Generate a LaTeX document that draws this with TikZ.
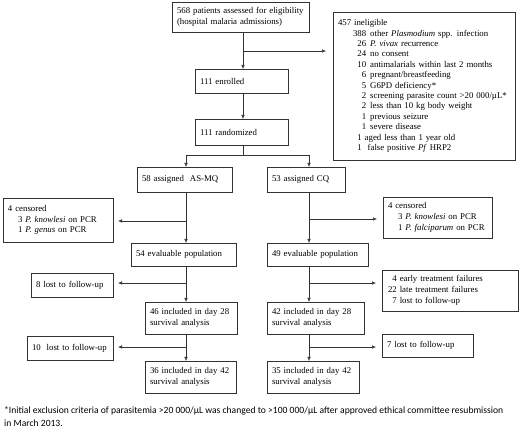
\documentclass[tikz,border=0pt]{standalone}
\usepackage{fontspec}
\setmainfont{Liberation Serif}
\newfontfamily\notefont{Carlito}
\usetikzlibrary{positioning, arrows.meta, calc}

\begin{document}
\begin{tikzpicture}[x=1pt, y=-1pt,
	box/.style={draw=black!80, line width=0.6pt, anchor=north west, align=left, inner xsep=5pt, inner ysep=2pt, outer sep=0pt, font=\fontsize{8.8}{10.8}\selectfont},
	arr/.style={draw=black!80, line width=0.6pt, -{Latex[length=4pt, width=3.6pt]}},
	ln/.style={draw=black!80, line width=0.6pt}]
	\useasboundingbox (0,0) rectangle (520,430);
	% main column
	\node[box, text width=127pt, minimum height=30pt] (screen) at (172,2) {568 patients assessed for eligibility\\(hospital malaria admissions)};
	\node[box, text width=172pt, minimum height=148pt, font=\fontsize{8.8}{10.4}\selectfont] (inelig) at (333,12) {%
		\begin{tabular}{@{\hspace{15pt}}r@{\hspace{4pt}}l@{}}
		\multicolumn{2}{@{}l@{}}{457 ineligible}\\
		388 & other \textit{Plasmodium} spp. infection\\
		26 & \textit{P. vivax} recurrence\\
		24 & no consent\\
		10 & antimalarials within last 2 months\\
		6 & pregnant/breastfeeding\\
		5 & G6PD deficiency*\\
		2 & screening parasite count >20 000/µL*\\
		2 & less than 10 kg body weight\\
		1 & previous seizure\\
		1 & severe disease\\
		\multicolumn{2}{@{\hspace{15pt}}l@{}}{\hphantom{0}1 aged less than 1 year old}\\
		\multicolumn{2}{@{\hspace{15pt}}l@{}}{\hphantom{0}1\ \ false positive \textit{Pf} HRP2}
		\end{tabular}};
	\node[box, text width=83pt, minimum height=24pt] (enrol) at (195,69) {111 enrolled};
	\node[box, text width=83pt, minimum height=26pt] (random) at (195,119) {111 randomized};
	% two arms
	\node[box, text width=85pt, minimum height=25pt] (asmq) at (137,167) {58 assigned\ \ AS-MQ};
	\node[box, text width=68pt, minimum height=25pt] (cq) at (267,167) {53 assigned CQ};
	\node[box, text width=100pt, minimum height=44pt] (censL) at (3,198) {4 censored\\\hspace*{10pt}3 \textit{P. knowlesi} on PCR\\\hspace*{10pt}1 \textit{P. genus} on PCR};
	\node[box, text width=99pt, minimum height=41pt] (censR) at (383,197) {4 censored\\\hspace*{10pt}3 \textit{P. knowlesi} on PCR\\\hspace*{10pt}1 \textit{P. falciparum} on PCR};
	\node[box, text width=95pt, minimum height=23pt] (evalL) at (131,243) {54 evaluable population};
	\node[box, text width=91pt, minimum height=23pt] (evalR) at (267,243) {49 evaluable population};
	\node[box, text width=72pt, minimum height=24pt] (lostL) at (31,273) {8 lost to follow-up};
	\node[box, text width=126pt, minimum height=41pt] (failR) at (382,270) {%
		\begin{tabular}{@{\hspace{1pt}}r@{\hspace{3pt}}l@{}}
		4 & early treatment failures\\
		22 & late treatment failures\\
		7 & lost to follow-up
		\end{tabular}};
	\node[box, text width=82pt, minimum height=32pt] (incL) at (145,302) {46 included in day 28\\survival analysis};
	\node[box, text width=87pt, minimum height=32pt] (incR) at (267,302) {42 included in day 28\\survival analysis};
	\node[box, text width=76pt, minimum height=24pt] (lostLL) at (27,336) {10\ \ lost to follow-up};
	\node[box, text width=81pt, minimum height=23pt] (lostRR) at (382,334) {7 lost to follow-up};
	\node[box, text width=81pt, minimum height=32pt] (finL) at (145,361) {36 included in day 42\\survival analysis};
	\node[box, text width=82pt, minimum height=32pt] (finR) at (267,361) {35 included in day 42\\survival analysis};
	\node[anchor=north west, inner sep=0pt, align=left, font=\notefont\fontsize{9.6}{13.6}\selectfont] (note) at (4,406) {*Initial exclusion criteria of parasitemia >20 000/µL was changed to >100 000/µL after approved ethical committee resubmission\\in March 2013.};
	% connectors
	\coordinate (s1) at (243,51);
	\coordinate (s2) at (243,155);
	\draw[arr] (screen.south -| s1) -- (enrol.north -| s1);
	\draw[arr] (s1) -- ([xshift=-7pt]s1 -| inelig.west);
	\draw[arr] (enrol.south -| s1) -- (random.north -| s1);
	\draw[ln] (random.south -| s2) -- (s2);
	\coordinate (armL) at (186,155);
	\coordinate (armR) at (309,155);
	\draw[ln] (armL) -- (armR);
	\draw[arr] (armL) -- (armL |- asmq.north);
	\draw[arr] (armR) -- (armR |- cq.north);
	% AS-MQ arm
	\draw[arr] (armL |- asmq.south) -- (armL |- evalL.north);
	\draw[arr] (armL |- 0,221) -- ([xshift=5pt]censL.east |- 0,221);
	\draw[arr] (armL |- evalL.south) -- (armL |- incL.north);
	\draw[arr] (armL |- 0,283) -- ([xshift=5pt]lostL.east |- 0,283);
	\draw[arr] (armL |- incL.south) -- (armL |- finL.north);
	\draw[arr] (armL |- 0,347) -- ([xshift=5pt]lostLL.east |- 0,347);
	% CQ arm
	\draw[arr] (armR |- cq.south) -- (armR |- evalR.north);
	\draw[arr] (armR |- 0,219) -- ([xshift=-6pt]censR.west |- 0,219);
	\draw[arr] (armR |- evalR.south) -- (armR |- incR.north);
	\draw[arr] (armR |- 0,283) -- ([xshift=-6pt]failR.west |- 0,283);
	\draw[arr] (armR |- incR.south) -- (armR |- finR.north);
	\draw[arr] (armR |- 0,347) -- ([xshift=-6pt]lostRR.west |- 0,347);
\end{tikzpicture}
\end{document}
